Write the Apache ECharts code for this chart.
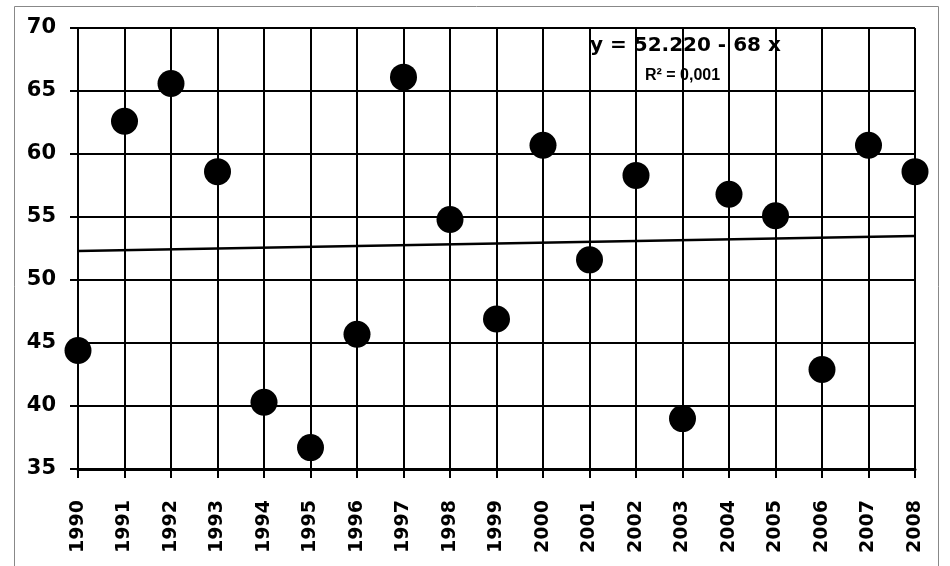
<!DOCTYPE html>
<html>
<head>
<meta charset="utf-8">
<script src="https://cdn.jsdelivr.net/npm/echarts@6/dist/echarts.min.js"></script>
<style>
  html, body { margin: 0; padding: 0; background: #fff; }
  #chart { width: 950px; height: 566px; }
</style>
</head>
<body>
<div id="chart"></div>
<script>
// years on the x axis
const years = ['1990', '1991', '1992', '1993', '1994', '1995', '1996', '1997', '1998', '1999',
  '2000', '2001', '2002', '2003', '2004', '2005', '2006', '2007', '2008'];
// values
const values = [44.4, 62.6, 65.6, 58.6, 40.3, 36.7, 45.7, 66.1, 54.8, 46.9,
  60.7, 51.6, 58.3, 39.0, 56.8, 55.1, 42.9, 60.7, 58.6];
// trend line end points (first and last year)
const trendYears = ['1990', '2008'];
const trendValues = [52.3, 53.5];
const equationText = 'y = 52.220 - 68 x';
const r2Text = 'R² = 0,001';

const chart = echarts.init(document.getElementById('chart'));

const option = {
  animation: false,
  grid: { left: 78, right: 35, top: 28, bottom: 97 },
  xAxis: {
    type: 'category',
    data: years,
    boundaryGap: false,
    axisLine: { lineStyle: { color: '#000', width: 3 } },
    axisTick: { show: true, length: 9, alignWithLabel: true, lineStyle: { color: '#000', width: 2 } },
    splitLine: { show: true, lineStyle: { color: '#000', width: 2 } },
    axisLabel: {
      rotate: 90,
      margin: 31,
      interval: 0,
      color: '#000',
      fontFamily: 'DejaVu Sans',
      fontWeight: 'bold',
      fontSize: 19
    }
  },
  yAxis: {
    type: 'value',
    min: 35,
    max: 70,
    interval: 5,
    axisLine: { show: true, lineStyle: { color: '#000', width: 2 } },
    axisTick: { show: true, length: 8, lineStyle: { color: '#000', width: 2 } },
    splitLine: { show: true, lineStyle: { color: '#000', width: 2 } },
    axisLabel: {
      margin: 22,
      color: '#000',
      fontFamily: 'DejaVu Sans',
      fontWeight: 'bold',
      fontSize: 21
    }
  },
  graphic: [
    {
      type: 'rect',
      shape: { x: 14.5, y: 6.5, width: 924, height: 570 },
      style: { fill: 'none', stroke: '#888', lineWidth: 1 },
      silent: true
    },
    {
      type: 'text',
      left: 590, top: 36,
      style: {
        text: equationText,
        fill: '#000',
        font: 'bold 20px "DejaVu Sans"'
      },
      z: 100
    },
    {
      type: 'text',
      left: 645, top: 68,
      style: {
        text: r2Text,
        fill: '#000',
        font: 'bold 16px "Liberation Sans"'
      },
      z: 100
    }
  ],
  series: [
    {
      type: 'line',
      data: trendYears.map((y, i) => [y, trendValues[i]]),
      symbol: 'none',
      lineStyle: { color: '#000', width: 2.5 },
      z: 3
    },
    {
      type: 'scatter',
      data: values,
      symbol: 'circle',
      symbolSize: 27,
      itemStyle: { color: '#000', opacity: 1 },
      z: 4
    }
  ]
};

chart.setOption(option);
</script>
</body>
</html>
